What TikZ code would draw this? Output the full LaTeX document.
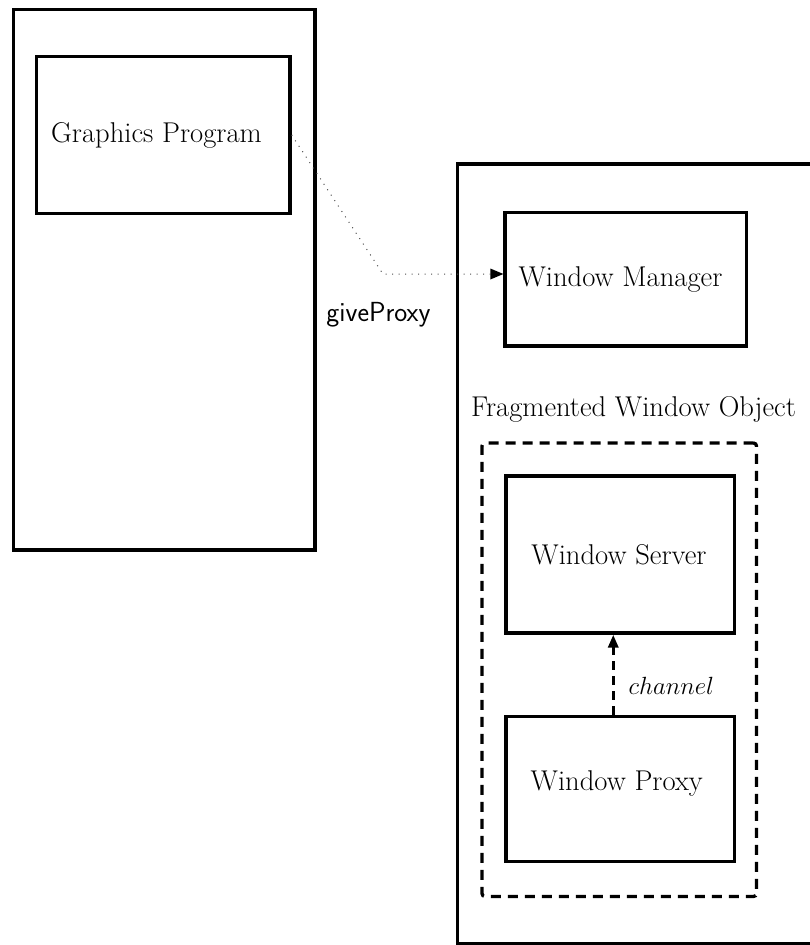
\documentclass[tikz,border=0pt]{standalone}
\usetikzlibrary{arrows.meta}
\begin{document}
\begin{tikzpicture}[x=1pt,y=-1pt,
  every node/.style={font=\fontsize{28.6}{32}\selectfont},
  box/.style={draw, line width=3.3pt, rectangle, inner sep=0pt},
  dotconn/.style={draw=black!70, line width=1pt, dash pattern=on 1pt off 5.5pt, -{Triangle[length=13pt,width=11pt,color=black,fill=black,line width=0pt]}},
  dashconn/.style={draw, line width=3.3pt, dash pattern=on 9pt off 6pt, -{Triangle[length=13pt,width=10pt]}},
  dashbox/.style={draw, line width=3.3pt, dash pattern=on 10pt off 7pt, rounded corners=3pt}
]
\useasboundingbox (0,0) rectangle (809,945);
% left machine
\node[box, minimum width=301.5pt, minimum height=540.5pt] (left) at (164.25,279.75) {};
\node[box, minimum width=253.5pt, minimum height=157pt] (gp) at (163.25,135) {};
\node (gptext) at (156.5,135) {Graphics Program};
% right machine
\node[box, minimum width=372.5pt, minimum height=779.5pt] (right) at (643.75,553.75) {};
\node[box, minimum width=241.5pt, minimum height=133.5pt] (wm) at (625.75,279.25) {};
\node (wmtext) at (620.5,279) {Window Manager};
\node (fwolabel) at (633.5,409) {Fragmented Window Object};
\node[dashbox, minimum width=274.5pt, minimum height=453.5pt] (fwo) at (619.25,669.75) {};
\node[box, minimum width=228.5pt, minimum height=157pt] (ws) at (620.25,554.5) {};
\node (wstext) at (619,554.5) {Window Server};
\node[box, minimum width=228.5pt, minimum height=145pt] (wp) at (620.25,789) {};
\node (wptext) at (616.7,783) {Window Proxy};
% connectors
\coordinate (bend) at (383,274);
\draw[dotconn] (gp.east) -- (bend) -- (bend -| wm.west);
\node[font=\fontsize{27.6}{31}\selectfont\sffamily] (give) at (378.5,315) {giveProxy};
\draw[dashconn] ([xshift=-7pt]wp.north) -- ([xshift=-7pt]ws.south);
\node[anchor=west, font=\fontsize{26.3}{30}\selectfont] (chan) at (625,686) {$channel$};
\end{tikzpicture}
\end{document}
